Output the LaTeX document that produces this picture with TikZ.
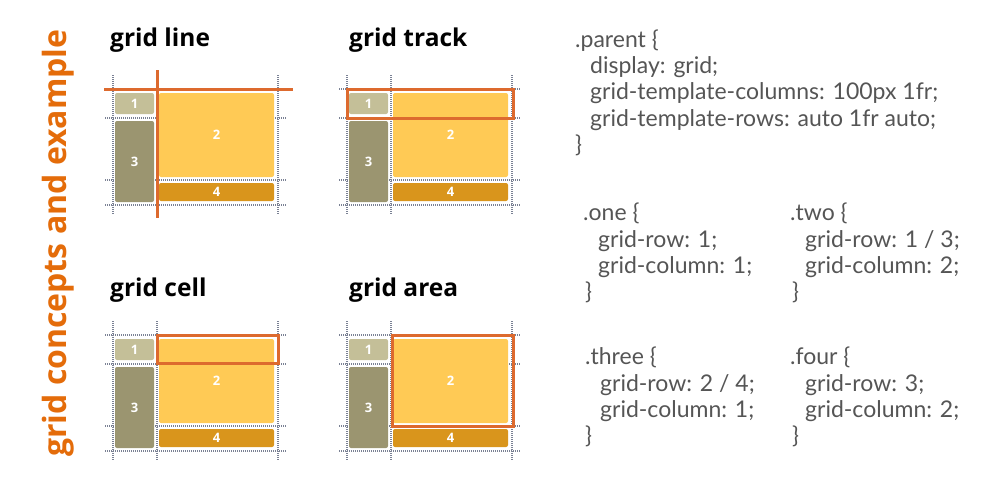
\documentclass[tikz,border=0pt]{standalone}
\usepackage{fontspec}
\setmainfont{Lato}
\newfontfamily\headfont{Open Sans}
\usepackage{tikz}
\usetikzlibrary{calc}
\definecolor{itemone}{HTML}{C4BF98}
\definecolor{itemtwo}{HTML}{FFCA55}
\definecolor{itemthree}{HTML}{9B9570}
\definecolor{itemfour}{HTML}{D9951C}
\definecolor{hilite}{HTML}{DD6A2E}
\definecolor{sidetitle}{HTML}{E46C0A}
\definecolor{codegray}{HTML}{555555}
\definecolor{dotgray}{HTML}{7A8194}
\tikzset{
  gridline/.style={dotgray, line width=1.2pt, dash pattern=on 1pt off 1pt},
  item/.style={rounded corners=2pt, inner sep=0pt, text=white, font=\headfont\bfseries\fontsize{13}{13}\selectfont},
  hiline/.style={hilite, line width=3pt},
  heading/.style={anchor=base west, inner sep=0pt, font=\headfont\bfseries\fontsize{24.5}{24.5}\selectfont},
  code/.style={anchor=base west, inner sep=0pt, text=codegray, font=\fontsize{23}{23}\selectfont}
}
% one grid: name, x, y of the top left line crossing
\newcommand{\cssgrid}[3]{
\begin{scope}[shift={(#2,#3)}]
  \foreach \c in {0,44,165} \draw[gridline] (\c,-14) -- (\c,126);
  \foreach \r in {0,29,91,116} \draw[gridline] (-8,\r) -- (173,\r);
  \coordinate (#1-nw) at (0,0);
  \node[item, fill=itemone, minimum width=39pt, minimum height=21pt] (#1-one) at (21.5,14.5) {1};
  \node[item, fill=itemtwo, minimum width=115pt, minimum height=84pt] (#1-two) at (103.5,46) {2};
  \node[item, fill=itemthree, minimum width=39pt, minimum height=81pt] (#1-three) at (21.5,72.5) {3};
  \node[item, fill=itemfour, minimum width=115pt, minimum height=18pt] (#1-four) at (103.5,103) {4};
\end{scope}}

\begin{document}
\begin{tikzpicture}[x=1pt,y=-1pt]
\useasboundingbox (0,0) rectangle (990,483);
% side title
\node[rotate=90, anchor=base west, inner sep=0pt, text=sidetitle, font=\headfont\bfseries\fontsize{32}{32}\selectfont] (side) at (66,457) {grid concepts and example};
% the four grids
\cssgrid{line}{113}{89}
\cssgrid{track}{347}{89}
\cssgrid{cell}{113}{335}
\cssgrid{area}{347}{335}
% headings
\node[heading] (h-line) at (110,46) {grid line};
\node[heading] (h-track) at (349,46) {grid track};
\node[heading] (h-cell) at (110,296) {grid cell};
\node[heading] (h-area) at (349,296) {grid area};
% highlights
\draw[hiline] ($(line-nw)+(-9,0)$) -- ($(line-nw)+(180,0)$);
\draw[hiline] ($(line-nw)+(44,-19)$) -- ($(line-nw)+(44,129)$);
\draw[hiline] (track-nw) rectangle ($(track-nw)+(166,29)$);
\draw[hiline] ($(cell-nw)+(44,0)$) rectangle ($(cell-nw)+(165,28)$);
\draw[hiline] ($(area-nw)+(45,0)$) rectangle ($(area-nw)+(166,91)$);
% parent rule
\node[code] (parent-1) at (575,47) {.parent \{};
\node[code] (parent-2) at (590,73) {display: grid;};
\node[code] (parent-3) at (590,99) {grid-template-columns: 100px 1fr;};
\node[code] (parent-4) at (590,126) {grid-template-rows: auto 1fr auto;};
\node[code] (parent-5) at (575,152) {\}};
% item rules
\node[code] (one-1) at (583,220) {.one \{};
\node[code] (one-2) at (598,247) {grid-row: 1;};
\node[code] (one-3) at (598,273) {grid-column: 1;};
\node[code] (one-4) at (585,299) {\}};
\node[code] (two-1) at (790,220) {.two \{};
\node[code] (two-2) at (805,247) {grid-row: 1 / 3;};
\node[code] (two-3) at (805,273) {grid-column: 2;};
\node[code] (two-4) at (792,299) {\}};
\node[code] (three-1) at (585,364) {.three \{};
\node[code] (three-2) at (600,391) {grid-row: 2 / 4;};
\node[code] (three-3) at (600,417) {grid-column: 1;};
\node[code] (three-4) at (585,443) {\}};
\node[code] (four-1) at (790,364) {.four \{};
\node[code] (four-2) at (805,391) {grid-row: 3;};
\node[code] (four-3) at (805,417) {grid-column: 2;};
\node[code] (four-4) at (792,443) {\}};
\end{tikzpicture}
\end{document}
